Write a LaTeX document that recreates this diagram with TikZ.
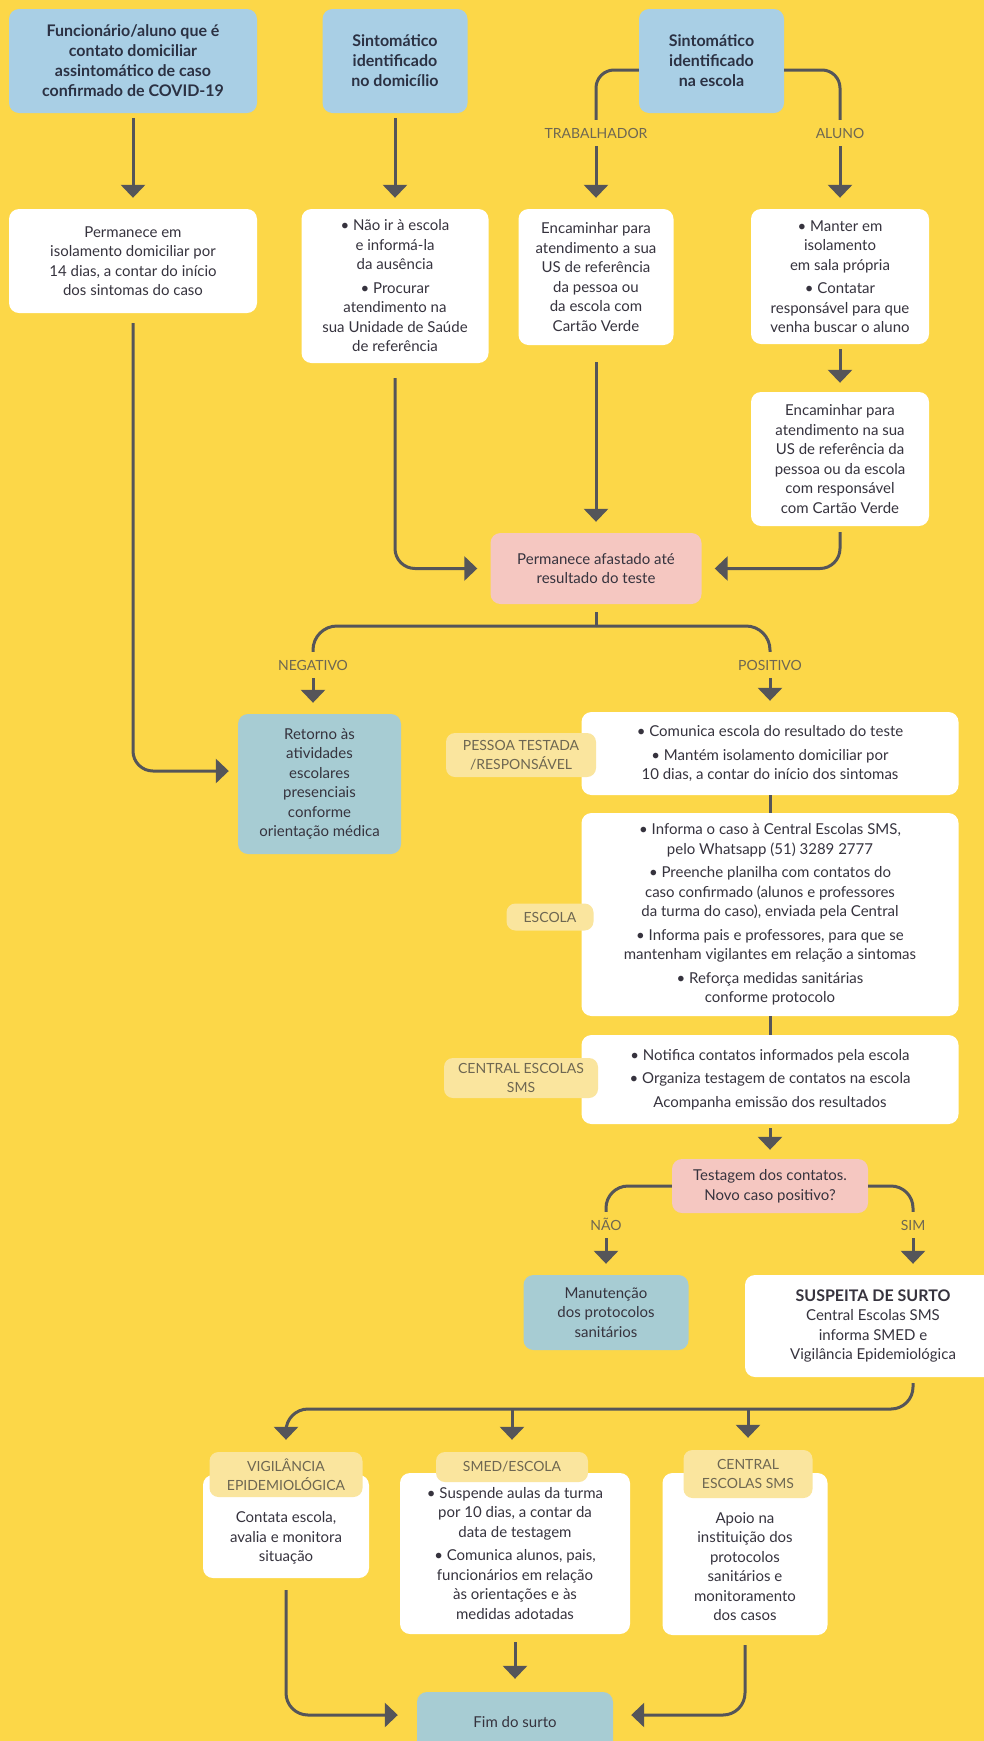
\documentclass[tikz,border=0pt]{standalone}
\usepackage{fontspec}
\setmainfont{Lato}
\usetikzlibrary{arrows.meta}

\definecolor{bgyellow}{HTML}{FCD748}
\definecolor{boxblue}{HTML}{A9CFE5}
\definecolor{boxteal}{HTML}{A7CCD3}
\definecolor{boxpink}{HTML}{F5C7C1}
\definecolor{tagyellow}{HTML}{FAE59E}
\definecolor{linegray}{HTML}{555559}
\definecolor{textdark}{HTML}{36333E}
\definecolor{titledark}{HTML}{2B3143}
\definecolor{tagtext}{HTML}{6E6752}

\newcommand{\topgap}[1]{\rule{0pt}{#1}}

\begin{document}
\begin{tikzpicture}[x=1pt, y=-1pt,
    every node/.style={font=\fontsize{15}{19.5}\selectfont, text=textdark, align=center, inner sep=3pt},
    dims/.style 2 args={minimum width=#1pt, minimum height=#2pt},
    bluebox/.style={fill=boxblue, rounded corners=10pt, text=titledark, font=\fontsize{16}{20}\selectfont\bfseries},
    card/.style={fill=white, rounded corners=10pt},
    tealbox/.style={fill=boxteal, rounded corners=10pt},
    pinkbox/.style={fill=boxpink, rounded corners=10pt},
    tag/.style={fill=tagyellow, rounded corners=9pt, text=tagtext, font=\fontsize{14}{19}\selectfont},
    branch/.style={text=tagtext, font=\fontsize{14}{19}\selectfont, text height=10pt, text depth=0pt, inner ysep=8pt},
    line/.style={draw=linegray, line width=3pt},
    arr/.style={line, -{Triangle[width=24pt,length=13pt]}, shorten >=11pt}]
    \fill[bgyellow] (0,0) rectangle (984,1741);
    \useasboundingbox (0,0) rectangle (984,1741);

    \node[bluebox, dims={248}{104}] (b1) at (133,61)
        {Funcionário/aluno que é\\contato domiciliar\\assintomático de caso\\confirmado de COVID-19};
    \node[bluebox, dims={145}{104}] (b2) at (395,61) {Sintomático\\identificado\\no domicílio};
    \node[bluebox, dims={145}{104}] (b3) at (711.5,61) {Sintomático\\identificado\\na escola};

    \node[card, dims={248}{104}] (w1) at (133,261)
        {Permanece em\\isolamento domiciliar por\\14 dias, a contar do início\\dos sintomas do caso};
    \node[card, dims={187}{154}] (w2) at (395,286)
        {• Não ir à escola\\e informá-la\\da ausência\\[4pt]• Procurar\\atendimento na\\sua Unidade de Saúde\\de referência};
    \node[card, dims={155}{136}] (w3) at (596,277)
        {Encaminhar para\\atendimento a sua\\US de referência\\da pessoa ou\\da escola com\\Cartão Verde};
    \node[card, dims={178}{135}] (w4) at (840,276.5)
        {• Manter em\\isolamento\\em sala própria\\[4pt]• Contatar\\responsável para que\\venha buscar o aluno};
    \node[card, dims={178}{134}] (w5) at (840,459)
        {Encaminhar para\\atendimento na sua\\US de referência da\\pessoa ou da escola\\com responsável\\com Cartão Verde};
    \node[pinkbox, dims={211}{71}] (p1) at (596,568.5) {Permanece afastado até\\resultado do teste};

    \node[tealbox, dims={163}{140}] (t1) at (319.5,784)
        {Retorno às\\atividades\\escolares\\presenciais\\conforme\\orientação médica};
    \node[card, dims={377}{83}] (w6) at (770,753.5)
        {• Comunica escola do resultado do teste\\[4pt]• Mantém isolamento domiciliar por\\10 dias, a contar do início dos sintomas};
    \node[card, dims={377}{203}] (w7) at (770,914.5)
        {• Informa o caso à Central Escolas SMS,\\pelo Whatsapp (51) 3289 2777\\[4pt]• Preenche planilha com contatos do\\caso confirmado (alunos e professores\\da turma do caso), enviada pela Central\\[4pt]• Informa pais e professores, para que se\\mantenham vigilantes em relação a sintomas\\[4pt]• Reforça medidas sanitárias\\conforme protocolo};
    \node[card, dims={377}{89}] (w8) at (770,1079.5)
        {• Notifica contatos informados pela escola\\[4pt]• Organiza testagem de contatos na escola\\[4pt]Acompanha emissão dos resultados};
    \node[pinkbox, dims={196}{54}] (p2) at (770,1186) {Testagem dos contatos.\\Novo caso positivo?};

    \node[tealbox, dims={165}{75}] (t2) at (606,1312.5) {Manutenção\\dos protocolos\\sanitários};
    \node[card, dims={256}{102}] (w9) at (873,1326)
        {{\fontsize{16}{19.5}\selectfont\bfseries SUSPEITA DE SURTO}\\Central Escolas SMS\\informa SMED e\\Vigilância Epidemiológica};

    \node[card, dims={166}{103}] (w10) at (286,1526.5) {\topgap{34pt}Contata escola,\\avalia e monitora\\situação};
    \node[card, dims={230}{161}] (w11) at (515,1553.5)
        {• Suspende aulas da turma\\por 10 dias, a contar da\\data de testagem\\[4pt]• Comunica alunos, pais,\\funcionários em relação\\às orientações e às\\medidas adotadas};
    \node[card, dims={165}{162}] (w12) at (745,1554)
        {\topgap{36pt}Apoio na\\instituição dos\\protocolos\\sanitários e\\monitoramento\\dos casos};
    \node[tealbox, dims={196}{60}] (t3) at (515,1722) {Fim do surto};

    \node[tag, dims={150}{44}] (l1) at (521,755) {PESSOA TESTADA\\/RESPONSÁVEL};
    \node[tag, dims={87}{27}] (l2) at (550,917) {ESCOLA};
    \node[tag, dims={154}{40}] (l3) at (521,1078) {CENTRAL ESCOLAS\\SMS};
    \node[tag, dims={153}{45}] (l4) at (286,1474.5) {VIGILÂNCIA\\EPIDEMIOLÓGICA};
    \node[tag, dims={152}{30}] (l5) at (512,1467) {SMED/ESCOLA};
    \node[tag, dims={129}{48}] (l6) at (748,1474) {CENTRAL\\ESCOLAS SMS};

    \foreach \name/\x/\y/\txt in {trab/596/133/TRABALHADOR, aluno/840/133/ALUNO,
        neg/313/665/NEGATIVO, pos/770/665/POSITIVO, nao/606/1225/NÃO, sim/913/1225/SIM}
        \node[branch] (\name) at (\x,\y) {\txt};

    \coordinate (split1) at (596,626);
    \coordinate (split2) at (913,1409);

    \draw[arr, shorten <=5pt] (b1) -- (w1);
    \draw[arr, shorten <=5pt] (b2) -- (w2);
    \draw[line, rounded corners=18pt] ([yshift=-9pt]b3.west) -| (trab.north);
    \draw[line, rounded corners=18pt] ([yshift=-9pt]b3.east) -| (aluno.north);
    \draw[arr] (trab) -- (w3);
    \draw[arr] (aluno) -- (w4);
    \draw[arr, shorten <=5pt, shorten >=9pt] (w4) -- (w5);

    \draw[arr, rounded corners=20pt, shorten <=15pt, shorten >=13pt] (w2) |- (p1);
    \draw[arr, shorten <=17pt] (w3) -- (p1);
    \draw[arr, rounded corners=20pt, shorten <=6pt, shorten >=13pt] (w5) |- (p1);
    \draw[arr, rounded corners=20pt, shorten <=10pt, shorten >=9pt] (w1) |- ([yshift=13pt]t1.west);

    \draw[line, shorten <=8pt] (p1) -- (split1);
    \draw[line, rounded corners=24pt] (split1) -| (neg.north);
    \draw[line, rounded corners=24pt] (split1) -| (pos.north);
    \draw[arr] (neg) -- (neg |- t1.north);
    \draw[arr] (pos) -- (w6);

    \draw[line] (w6) -- (w7);
    \draw[line] (w7) -- (w8);
    \draw[arr, shorten <=4pt, shorten >=9pt] (w8) -- (p2);

    \draw[line, rounded corners=22pt] (p2.west) -| (nao.north);
    \draw[line, rounded corners=22pt] (p2.east) -| (sim.north);
    \draw[arr] (nao) -- (t2);
    \draw[arr] (sim) -- (sim |- w9.north);

    \draw[arr, rounded corners=22pt, shorten <=6pt, shorten >=12pt] (sim |- w9.south) -- (split2) -| (l4.north);
    \draw[arr, shorten >=12pt] (split2 -| l5) -- (l5);
    \draw[arr, shorten >=12pt] (split2 -| l6) -- (l6);

    \draw[arr, rounded corners=22pt, shorten <=12pt, shorten >=19pt] (w10) |- ([yshift=7pt]t3.west);
    \draw[arr, shorten <=8pt, shorten >=13pt] (w11) -- (t3);
    \draw[arr, rounded corners=22pt, shorten <=10pt, shorten >=18pt] (w12) |- ([yshift=7pt]t3.east);
\end{tikzpicture}
\end{document}
